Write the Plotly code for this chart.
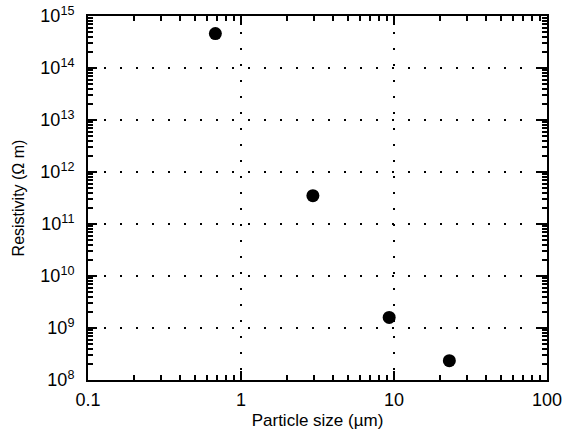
import plotly.graph_objects as go

particle_size = [0.68, 2.95, 9.3, 23.0]
resistivity = [4.6e14, 3.5e11, 1.6e9, 2.35e8]

x_tickvals = [0.1, 1, 10, 100]
x_ticktext = ["0.1", "1", "10", "100"]
y_exponents = [8, 9, 10, 11, 12, 13, 14, 15]
y_tickvals = [10 ** e for e in y_exponents]
y_ticktext = ["10<sup>%d</sup>" % e for e in y_exponents]

x_minor = [m * 10 ** e for e in range(-1, 2) for m in range(2, 10)]
y_minor = [m * 10 ** e for e in range(8, 15) for m in range(2, 10)]

FONT = "Liberation Sans, Arial"

def axis_common(minor_vals, label_standoff):
    return dict(
        showline=True, linecolor="black", linewidth=2, mirror="ticks",
        ticks="inside", ticklen=9, tickwidth=2, tickcolor="black",
        showgrid=True, gridcolor="black", gridwidth=2, griddash="2px,14px",
        zeroline=False, automargin=False, ticklabelstandoff=label_standoff,
        tickfont=dict(family=FONT, size=18, color="black"),
        minor=dict(tickmode="array", tickvals=minor_vals, ticks="inside",
                   ticklen=5, tickwidth=1.5, tickcolor="black", showgrid=False),
    )

fig = go.Figure()
fig.add_trace(go.Scatter(
    x=particle_size, y=resistivity, mode="markers",
    marker=dict(size=13, color="black"),
    showlegend=False,
))

fig.update_xaxes(type="log", range=[-1, 2], tickvals=x_tickvals, ticktext=x_ticktext,
                 title=dict(text="Particle size (µm)", font=dict(family=FONT, size=17, color="black"), standoff=6),
                 **axis_common(x_minor, 2))
fig.update_yaxes(type="log", range=[8, 15], tickvals=y_tickvals, ticktext=y_ticktext,
                 title=dict(text="Resistivity (Ω m)", font=dict(family=FONT, size=16, color="black"), standoff=12),
                 **axis_common(y_minor, 8))

fig.update_layout(
    width=566, height=442,
    margin=dict(l=88, r=19, t=16, b=62),
    paper_bgcolor="white", plot_bgcolor="white",
)
fig.write_html("out.html", config={"displayModeBar": False},
               post_script="document.body.style.margin='0px';")
